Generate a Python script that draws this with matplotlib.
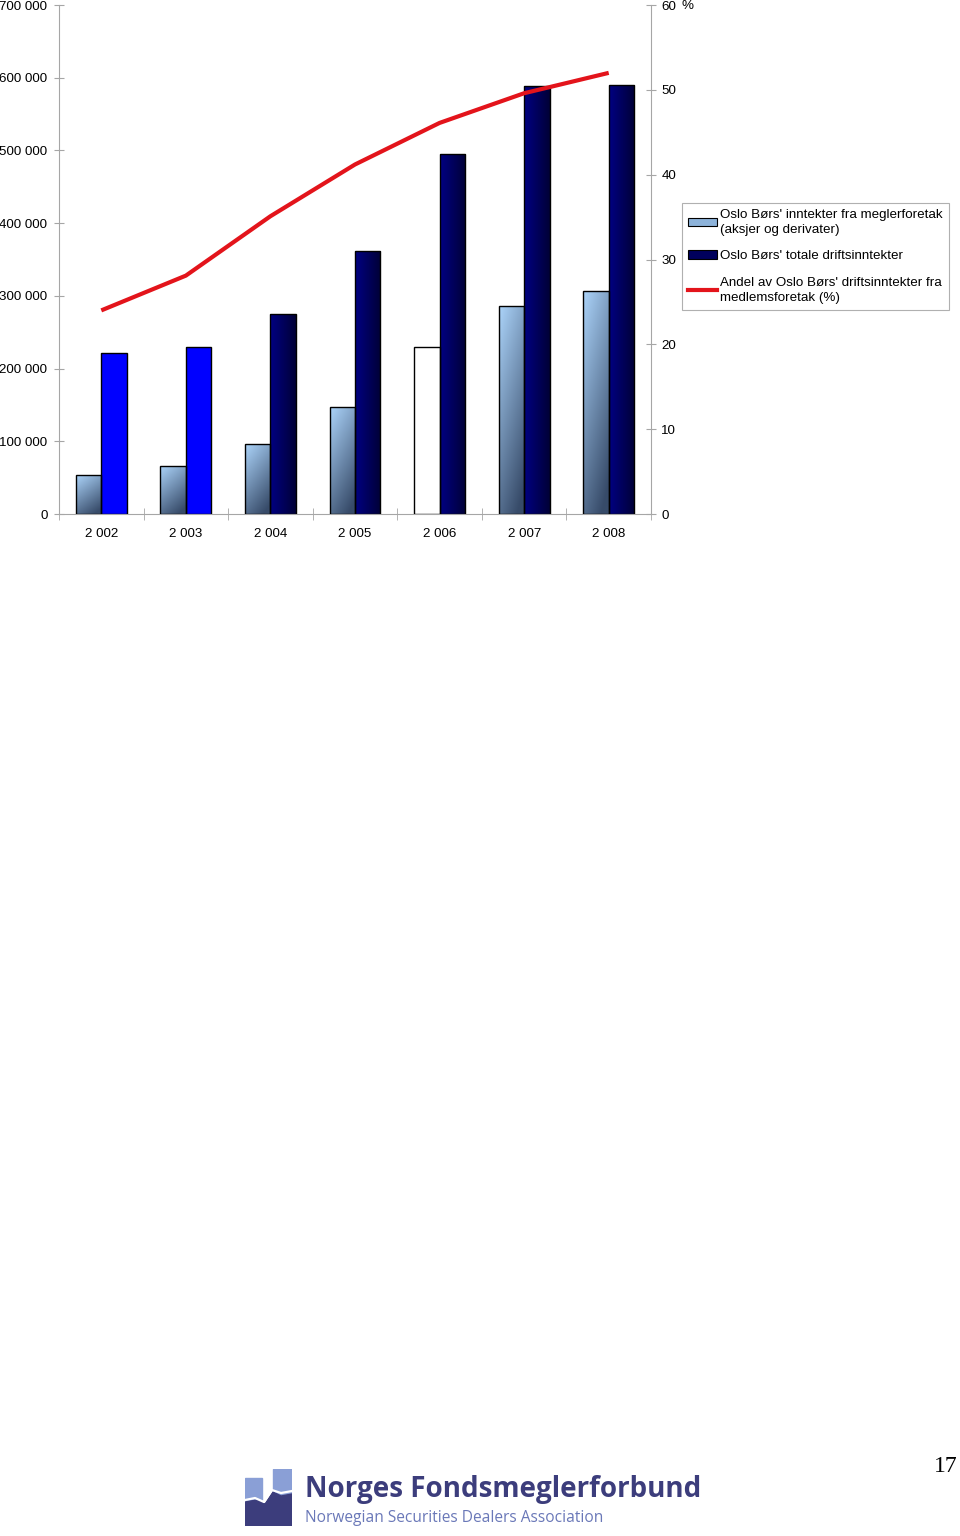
import numpy as np
import matplotlib.pyplot as plt
from matplotlib.ticker import FuncFormatter, FixedLocator
from matplotlib.patches import Patch, Rectangle, Polygon
from matplotlib.lines import Line2D

plt.rcParams['font.family'] = ['Liberation Sans', 'DejaVu Sans']

years = ['2 002', '2 003', '2 004', '2 005', '2 006', '2 007', '2 008']
broker_income = [53000, 66000, 96000, 147000, 230000, 286000, 306000]
total_income = [222000, 230000, 275000, 362000, 495000, 589000, 590000]
share_pct = [24.0, 28.1, 35.1, 41.2, 46.1, 49.6, 52.0]

label_broker = "Oslo Børs' inntekter fra meglerforetak\n(aksjer og derivater)"
label_total = "Oslo Børs' totale driftsinntekter"
label_share = "Andel av Oslo Børs' driftsinntekter fra\nmedlemsforetak (%)"

# fill style per bar (the source chart is inconsistent)
broker_style = ['grad', 'grad', 'grad', 'grad', 'white', 'grad', 'grad']
total_style = ['blue', 'blue', 'grad', 'grad', 'grad', 'grad', 'grad']

GRID = '#a6a6a6'
FS = 9.6
light_top = np.array([172, 212, 250]) / 255
light_bot = np.array([55, 75, 105]) / 255
navy_l = np.array([0, 0, 130]) / 255
navy_r = np.array([0, 0, 55]) / 255

u = np.linspace(0, 1, 40)
v = np.linspace(0, 1, 120)
U, V = np.meshgrid(u, v)
t = np.clip(0.35 * U + 0.75 * (1 - V), 0, 1)[..., None]
light_img = light_top * (1 - t) + light_bot * t
t2 = np.clip(U, 0, 1)[..., None]
navy_img = navy_l * (1 - t2) + navy_r * t2

fig = plt.figure(figsize=(9.6, 15.36), dpi=100)
ax = fig.add_axes([59 / 960, 1 - 514 / 1536, 592 / 960, 509 / 1536])

x = np.arange(len(years))
w = 0.3


def draw_bars(xpos, vals, styles):
    bars = ax.bar(xpos, vals, w, color='white', edgecolor='none', zorder=2)
    for b, s in zip(bars, styles):
        if s == 'blue':
            b.set_facecolor('#0000ff')
        elif s == 'grad':
            img = light_img if vals is broker_income else navy_img
            im = ax.imshow(img, extent=[b.get_x(), b.get_x() + b.get_width(), 0, b.get_height()],
                           origin='lower', aspect='auto', zorder=2.5, interpolation='bilinear')
            im.set_clip_path(b)
    ax.bar(xpos, vals, w, fill=False, edgecolor='black', linewidth=1.0, zorder=3)


draw_bars(x - w / 2, broker_income, broker_style)
draw_bars(x + w / 2, total_income, total_style)

ax.set_xlim(-0.5, len(years) - 0.5)
ax.set_ylim(0, 700000)
ax.set_yticks(np.arange(0, 700001, 100000))
ax.yaxis.set_major_formatter(FuncFormatter(lambda v_, p: f"{v_:,.0f}".replace(',', ' ')))
ax.set_xticks(x)
ax.set_xticklabels(years)
ax.xaxis.set_minor_locator(FixedLocator(np.arange(-0.5, len(years), 1.0)))
ax.tick_params(axis='x', which='major', length=0, pad=10, labelsize=FS)
ax.tick_params(axis='x', which='minor', direction='inout', length=8, color=GRID)
ax.tick_params(axis='y', direction='inout', length=7, color=GRID, pad=4.8, labelsize=FS)
for s in ['top', 'right']:
    ax.spines[s].set_visible(False)
for s in ['left', 'bottom']:
    ax.spines[s].set_color(GRID)
ax.set_facecolor('none')

ax2 = ax.twinx()
ax2.plot(x, share_pct, color='#e3141b', linewidth=3.0, solid_capstyle='butt', zorder=4)
ax2.set_ylim(0, 60)
ax2.set_yticks(np.arange(0, 61, 10))
ax2.tick_params(axis='y', direction='inout', length=7, color=GRID, pad=4, labelsize=FS)
for s in ['top', 'left', 'bottom']:
    ax2.spines[s].set_visible(False)
ax2.spines['right'].set_color(GRID)
fig.text(682 / 960, 1 - 6 / 1536, '%', fontsize=FS, va='center', ha='left')

handles = [Patch(facecolor='#8db3da', edgecolor='black', linewidth=0.8),
           Patch(facecolor='#00005c', edgecolor='black', linewidth=0.8),
           Line2D([0], [0], color='#e3141b', linewidth=3.0)]
leg = fig.legend(handles, [label_broker, label_total, label_share],
                 loc='upper left', bbox_to_anchor=(682 / 960, 1 - 203 / 1536),
                 fontsize=FS, fancybox=False, framealpha=1, edgecolor='#b0b0b0',
                 handlelength=2.2, handleheight=0.6, handletextpad=0.2,
                 labelspacing=1.1, borderpad=0.45, borderaxespad=0)
leg.get_frame().set_linewidth(0.8)
for txt in leg.get_texts():
    txt.set_linespacing(1.3)

# footer logo
la = fig.add_axes([245 / 960, 1 - 1526 / 1536, 47 / 960, 57 / 1536])
la.set_xlim(0, 47)
la.set_ylim(0, 57)
la.axis('off')
la.add_patch(Rectangle((0, 26), 17, 22, color='#8a9fd6'))
la.add_patch(Rectangle((28, 26), 19, 31, color='#8a9fd6'))
la.add_patch(Polygon([(0, 0), (47, 0), (47, 32), (36, 30), (28, 34), (20, 22), (12, 26), (0, 24)],
                     color='#3c3d7c'))
la.plot([0, 10, 19, 27, 36, 47], [26, 28, 24, 36, 33, 35], color='white', linewidth=1.6)

fig.text(305 / 960, 1 - 1490 / 1536, 'Norges Fondsmeglerforbund', fontsize=20,
         fontweight='bold', family='Open Sans', color='#3c3d7c', va='center', ha='left')
fig.text(305 / 960, 1 - 1518 / 1536, 'Norwegian Securities Dealers Association', fontsize=11.2,
         family='Open Sans', color='#6a78b8', va='center', ha='left')
fig.text(958 / 960, 1 - 1467 / 1536, '17', fontsize=17, family='Liberation Serif',
         va='center', ha='right')

fig.savefig('out.png', dpi=100, facecolor='white')
